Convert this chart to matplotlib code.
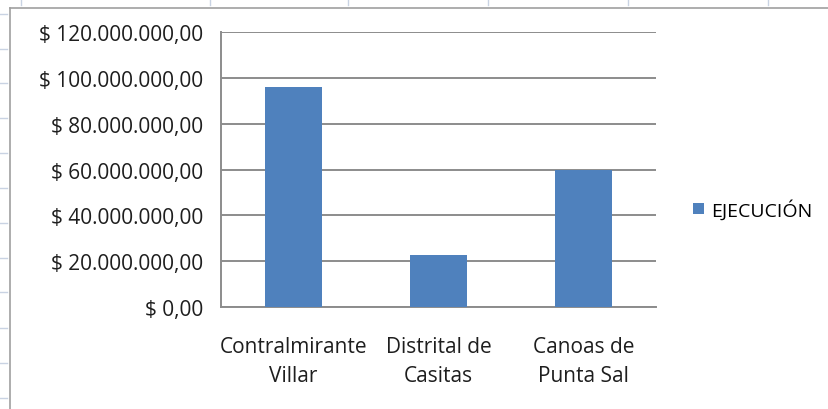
import matplotlib
matplotlib.use("Agg")
import matplotlib.pyplot as plt
from matplotlib.lines import Line2D
from matplotlib.ticker import FuncFormatter, MultipleLocator

W, H = 829, 410

categories = ["Contralmirante\nVillar", "Distrital de\nCasitas", "Canoas de\nPunta Sal"]
ejecucion = [96_000_000, 22_700_000, 59_800_000]
series_name = "EJECUCIÓN"

BAR = "#4F81BD"
GRID = "#8C8C8C"
SHEET = "#C9D3E3"
TXT = "#1E1E1E"
FS = 15

plt.rcParams["font.family"] = ["Open Sans", "DejaVu Sans"]

fig = plt.figure(figsize=(W / 100, H / 100), dpi=100)
fig.patch.set_facecolor("white")


def fx(px):
    return px / W


def fy(py):
    return 1 - py / H


# spreadsheet cells behind the chart
for x in [21, 210, 348, 488, 628, 768]:
    fig.add_artist(Line2D([fx(x), fx(x)], [fy(0), fy(6)], color=SHEET, lw=1))
for y in [15, 50, 84, 119, 154, 189, 224, 259, 293, 329, 364, 399]:
    fig.add_artist(Line2D([fx(0), fx(7)], [fy(y), fy(y)], color=SHEET, lw=1))

# chart frame
fig.add_artist(Line2D([fx(10), fx(10)], [fy(9), fy(410)], color="#A0A0A0", lw=1.2))
fig.add_artist(Line2D([fx(10), fx(829)], [fy(9), fy(9)], color="#A0A0A0", lw=1.2))

ax = fig.add_axes([fx(221), fy(308), fx(656) - fx(221), fy(33) - fy(308)])
x = range(len(categories))
ax.bar(x, ejecucion, width=0.39, color=BAR, zorder=3, label=series_name)

ax.set_ylim(0, 120_000_000)
ax.set_xlim(-0.5, len(categories) - 0.5)
ax.yaxis.set_major_locator(MultipleLocator(20_000_000))


def money(v, pos):
    s = f"{int(round(v)):,}".replace(",", ".")
    return f"$ {s},00"


ax.yaxis.set_major_formatter(FuncFormatter(money))
ax.set_xticks(list(x))
ax.set_xticklabels(categories, fontsize=FS, color=TXT, linespacing=1.5)
ax.tick_params(axis="y", labelsize=FS, colors=TXT, length=0, pad=13)
ax.tick_params(axis="x", length=0, pad=21)

ax.grid(axis="y", color=GRID, lw=1.4, zorder=0)
for side in ["top", "right"]:
    ax.spines[side].set_visible(False)
for side in ["left", "bottom"]:
    ax.spines[side].set_color(GRID)
    ax.spines[side].set_linewidth(1.4)

fig.legend(loc="center left", bbox_to_anchor=(fx(676), fy(210)), frameon=False,
           fontsize=14, handlelength=0.55, handleheight=0.55, handletextpad=0.35)

fig.savefig("out.png", dpi=100, facecolor="white")
